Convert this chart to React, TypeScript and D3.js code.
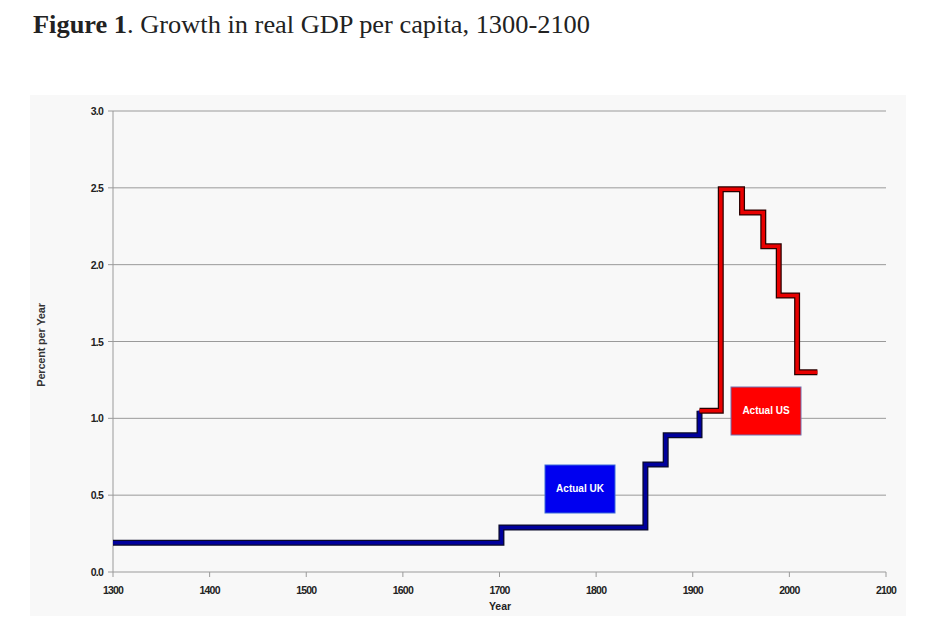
import React from 'react';
import * as d3 from 'd3';

// step series: [year, percent per year]
const ukSteps: [number, number][] = [
  [1300, 0.19],
  [1702, 0.29],
  [1851, 0.7],
  [1872, 0.89],
  [1907, 1.05],
];
const usSteps: [number, number][] = [
  [1907, 1.05],
  [1929, 2.49],
  [1951, 2.34],
  [1973, 2.12],
  [1989, 1.8],
  [2008, 1.3],
  [2029, 1.3],
];
const xTicks = [1300, 1400, 1500, 1600, 1700, 1800, 1900, 2000, 2100];
const yTicks = [0, 0.5, 1, 1.5, 2, 2.5, 3];

const W = 951;
const H = 639;
const axisFont = '"Liberation Sans", Arial, sans-serif';

export default function App() {
  const x = d3.scaleLinear([1300, 2100], [113, 886]);
  const y = d3.scaleLinear([0, 3], [572, 111]);
  const line = d3
    .line<[number, number]>()
    .x((d) => x(d[0]))
    .y((d) => y(d[1]))
    .curve(d3.curveStepAfter);

  return (
    <svg
      width={W}
      height={H}
      style={{ position: 'fixed', left: 0, top: 0, background: '#fff' }}
    >
      <text
        x={33}
        y={33}
        fontFamily='"Liberation Serif", serif'
        fontSize={25.5}
        fill="#222"
        textLength={557}
        lengthAdjust="spacingAndGlyphs"
      >
        <tspan fontWeight="bold">Figure 1</tspan>. Growth in real GDP per capita, 1300-2100
      </text>

      {/* chart panel */}
      <rect x={30} y={95} width={876} height={521} fill="#f8f8f8" />

      {/* grid */}
      {yTicks.map((t) => (
        <g key={t}>
          {t > 0 && (
            <line x1={x(1300)} x2={x(2100)} y1={y(t)} y2={y(t)} stroke="#9a9a9a" strokeWidth={1} />
          )}
          <line x1={x(1300) - 5} x2={x(1300)} y1={y(t)} y2={y(t)} stroke="#9a9a9a" />
          <text
            x={x(1300) - 10}
            y={y(t) + 4}
            textAnchor="end"
            fontFamily={axisFont}
            fontWeight="bold"
            fontSize={10.5}
            letterSpacing={-0.8}
            fill="#222"
          >
            {t.toFixed(1)}
          </text>
        </g>
      ))}

      {/* axes */}
      <line x1={x(1300)} x2={x(1300)} y1={y(3)} y2={y(0)} stroke="#9a9a9a" />
      <line x1={x(1300)} x2={x(2100)} y1={y(0)} y2={y(0)} stroke="#9a9a9a" />
      {xTicks.map((t) => (
        <g key={t}>
          <line x1={x(t)} x2={x(t)} y1={y(0)} y2={y(0) + 5} stroke="#9a9a9a" />
          <text
            x={x(t)}
            y={y(0) + 22}
            textAnchor="middle"
            fontFamily={axisFont}
            fontWeight="bold"
            fontSize={10.5}
            letterSpacing={-0.8}
            fill="#222"
          >
            {t}
          </text>
        </g>
      ))}
      <text x={500} y={610} textAnchor="middle" fontFamily={axisFont} fontWeight="bold" fontSize={10.5} fill="#222">
        Year
      </text>
      <text
        transform="translate(45,345) rotate(-90)"
        textAnchor="middle"
        fontFamily={axisFont}
        fontWeight="bold"
        fontSize={11}
        letterSpacing={-0.2}
        fill="#333"
      >
        Percent per Year
      </text>

      {/* series: dark outline under a coloured core */}
      <path d={line(ukSteps) ?? ''} fill="none" stroke="#0a0a2a" strokeWidth={6} />
      <path d={line(ukSteps) ?? ''} fill="none" stroke="#00009c" strokeWidth={3.5} />
      <path d={line(usSteps) ?? ''} fill="none" stroke="#2a0000" strokeWidth={6} />
      <path d={line(usSteps) ?? ''} fill="none" stroke="#e80000" strokeWidth={3.5} />

      {/* labels */}
      <rect x={545} y={465} width={70} height={48} fill="#0000f0" stroke="#3a6ad8" strokeWidth={1} />
      <text x={580} y={492} textAnchor="middle" fontFamily={axisFont} fontWeight="bold" fontSize={10} fill="#fff">
        Actual UK
      </text>
      <rect x={731} y={387} width={70} height={48} fill="#ff0000" stroke="#7070b0" strokeWidth={1} />
      <text x={766} y={414} textAnchor="middle" fontFamily={axisFont} fontWeight="bold" fontSize={10} fill="#fff">
        Actual US
      </text>
    </svg>
  );
}
